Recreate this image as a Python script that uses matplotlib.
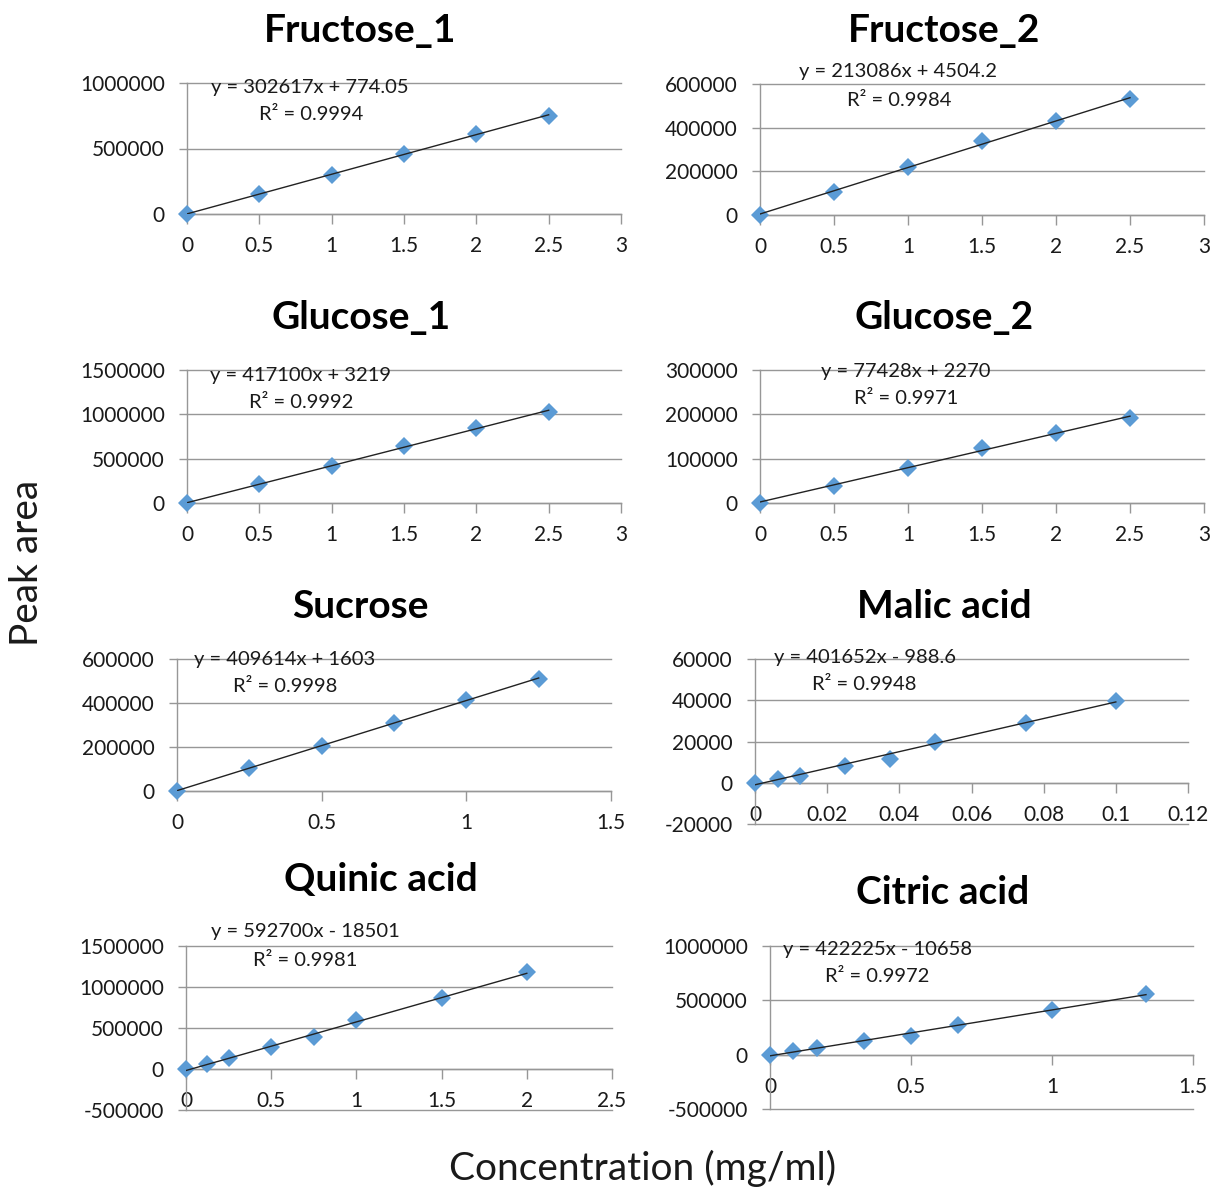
import matplotlib
matplotlib.use("Agg")
import matplotlib.pyplot as plt
from matplotlib.ticker import FuncFormatter, MultipleLocator
import numpy as np

W, H = 1211, 1190
plt.rcParams['font.family'] = ['Lato', 'DejaVu Sans']

# ---- data ----
titles = ["Fructose_1", "Fructose_2", "Glucose_1", "Glucose_2",
          "Sucrose", "Malic acid", "Quinic acid", "Citric acid"]

fru1_x = [0, 0.5, 1, 1.5, 2, 2.5]
fru1_y = [0, 150000, 300000, 455000, 610000, 750000]
fru2_x = [0, 0.5, 1, 1.5, 2, 2.5]
fru2_y = [0, 105000, 220000, 340000, 430000, 530000]
glu1_x = [0, 0.5, 1, 1.5, 2, 2.5]
glu1_y = [0, 210000, 420000, 640000, 850000, 1030000]
glu2_x = [0, 0.5, 1, 1.5, 2, 2.5]
glu2_y = [0, 38000, 78000, 124000, 157000, 191000]
suc_x = [0, 0.25, 0.5, 0.75, 1, 1.25]
suc_y = [0, 105000, 205000, 310000, 415000, 510000]
mal_x = [0, 0.00625, 0.0125, 0.025, 0.0375, 0.05, 0.075, 0.1]
mal_y = [0, 2000, 3500, 8000, 11500, 20000, 29000, 39500]
qui_x = [0, 0.125, 0.25, 0.5, 0.75, 1, 1.5, 2]
qui_y = [0, 60000, 130000, 270000, 390000, 600000, 860000, 1180000]
cit_x = [0, 0.0833, 0.1667, 0.3333, 0.5, 0.6667, 1, 1.3333]
cit_y = [0, 30000, 60000, 130000, 175000, 275000, 410000, 560000]

slopes = [302617, 213086, 417100, 77428, 409614, 401652, 592700, 422225]
intercepts = [774.05, 4504.2, 3219, 2270, 1603, -988.6, -18501, -10658]
eq_labels = ["y = 302617x + 774.05", "y = 213086x + 4504.2", "y = 417100x + 3219",
             "y = 77428x + 2270", "y = 409614x + 1603", "y = 401652x - 988.6",
             "y = 592700x - 18501", "y = 422225x - 10658"]
r2_labels = ["R² = 0.9994", "R² = 0.9984", "R² = 0.9992", "R² = 0.9971",
             "R² = 0.9998", "R² = 0.9948", "R² = 0.9981", "R² = 0.9972"]

xmaxs = [3, 3, 3, 3, 1.5, 0.12, 2.5, 1.5]
xsteps = [0.5, 0.5, 0.5, 0.5, 0.5, 0.02, 0.5, 0.5]
ylims = [(0, 1000000), (0, 600000), (0, 1500000), (0, 300000),
         (0, 600000), (-20000, 60000), (-500000, 1500000), (-500000, 1000000)]
ysteps = [500000, 200000, 500000, 100000, 200000, 20000, 500000, 500000]

xs = [fru1_x, fru2_x, glu1_x, glu2_x, suc_x, mal_x, qui_x, cit_x]
ys = [fru1_y, fru2_y, glu1_y, glu2_y, suc_y, mal_y, qui_y, cit_y]

# ---- layout (pixels) ----
boxes = [(187, 621, 83, 214), (760, 1204, 84, 215),
         (187, 621, 370, 503), (760, 1204, 370, 503),
         (177, 611, 659, 791), (755, 1188, 659, 824),
         (186, 612, 946, 1110), (770, 1193, 946, 1109)]
title_pos = [(360, 30), (944, 30), (361, 318), (944, 318),
             (360, 606), (944, 606), (381, 880), (943, 892)]
eq_pos = [(310, 87), (898, 72), (301, 376), (906, 372),
          (285, 659), (865, 658), (305, 932), (878, 950)]
r2_pos = [(311, 114), (899, 100), (301, 403), (906, 399),
          (285, 686), (864, 684), (305, 960), (877, 977)]

GRID = "#979797"
BLUE = "#5B9BD5"
TXT = "#1a1a1a"

fig = plt.figure(figsize=(W / 100, H / 100), dpi=100)

def fx(px):
    return px / W

def fy(py):
    return 1 - py / H

for i in range(8):
    x0, x1, yt, yb = boxes[i]
    ax = fig.add_axes([fx(x0), fy(yb), (x1 - x0) / W, (yb - yt) / H])
    ax.set_xlim(0, xmaxs[i])
    ax.set_ylim(*ylims[i])
    ax.xaxis.set_major_locator(MultipleLocator(xsteps[i]))
    ax.yaxis.set_major_locator(MultipleLocator(ysteps[i]))
    ax.xaxis.set_major_formatter(FuncFormatter(lambda v, p: "{:g}".format(round(v, 6))))
    ax.yaxis.set_major_formatter(FuncFormatter(lambda v, p: "{:.0f}".format(v)))
    for s in ["top", "right"]:
        ax.spines[s].set_visible(False)
    ax.spines["left"].set_color(GRID)
    ax.spines["bottom"].set_color(GRID)
    ax.spines["bottom"].set_position(("data", 0))
    ax.spines["left"].set_linewidth(1)
    ax.spines["bottom"].set_linewidth(1)
    ax.yaxis.grid(True, color=GRID, linewidth=1)
    ax.set_axisbelow(True)
    ax.tick_params(axis="x", direction="out", length=7, width=1, color=GRID,
                   pad=9, labelsize=15, labelcolor=TXT)
    ax.tick_params(axis="y", direction="out", length=6, width=1, color=GRID,
                   pad=10, labelsize=15, labelcolor=TXT)
    for gl in ax.get_ygridlines():
        gl.set_clip_on(False)
    ax.plot(xs[i], ys[i], linestyle="none", marker="D", markersize=9.2,
            color=BLUE, markeredgewidth=0, zorder=3, clip_on=False)
    # trendline
    xl = np.array([min(xs[i]), max(xs[i])])
    ax.plot(xl, slopes[i] * xl + intercepts[i], color="#222222", lw=1, zorder=4)
    fig.text(fx(title_pos[i][0]), fy(title_pos[i][1]), titles[i],
             ha="center", va="center", fontsize=28, fontweight="bold", color="black")
    fig.text(fx(eq_pos[i][0]), fy(eq_pos[i][1]), eq_labels[i],
             ha="center", va="center", fontsize=14.5, color=TXT)
    fig.text(fx(r2_pos[i][0]), fy(r2_pos[i][1]), r2_labels[i],
             ha="center", va="center", fontsize=14.5, color=TXT)

fig.text(fx(27), fy(563), "Peak area", rotation=90, ha="center", va="center",
         fontsize=28, color=TXT)
fig.text(fx(643), fy(1168), "Concentration (mg/ml)", ha="center", va="center",
         fontsize=28, color=TXT)

fig.savefig("out.png", dpi=100)
